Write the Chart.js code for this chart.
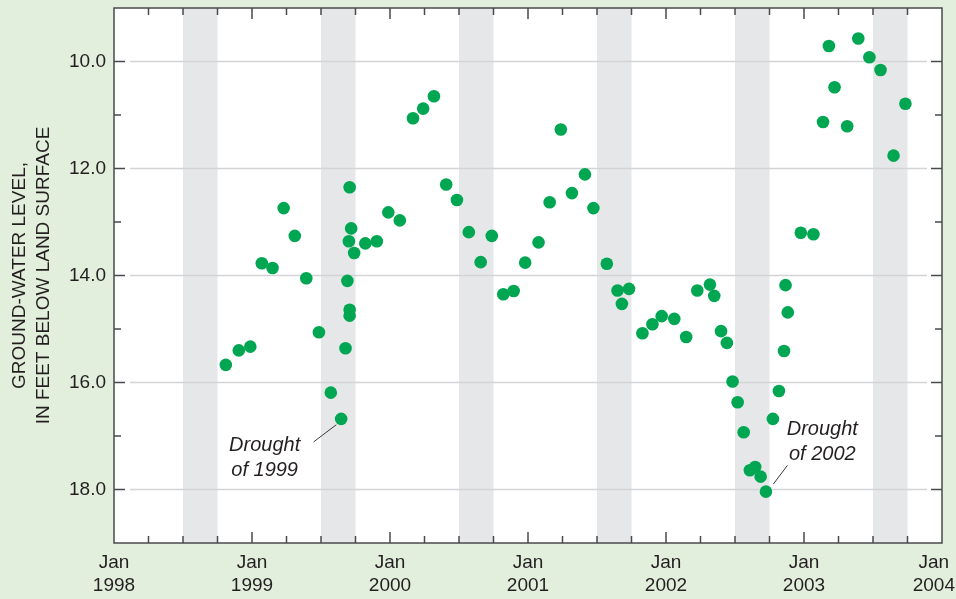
<!DOCTYPE html>
<html>
<head>
<meta charset="utf-8">
<script src="https://cdn.jsdelivr.net/npm/chart.js@4.4.0/dist/chart.umd.min.js"></script>
<style>
  html, body { margin: 0; padding: 0; background: #e3efdd; }
  #wrap { width: 956px; height: 599px; }
</style>
</head>
<body>
<div id="wrap"><canvas id="levelChart" width="956" height="599"></canvas></div>
<script>
'use strict';

// measurement dates
const sampleDates = [
    '1998-10-23', '1998-11-27', '1998-12-27',
    '1999-01-27', '1999-02-25', '1999-03-24', '1999-04-23', '1999-05-23', '1999-06-26',
    '1999-07-27', '1999-08-24', '1999-09-05', '1999-09-10', '1999-09-14', '1999-09-16',
    '1999-09-16', '1999-09-16', '1999-09-20', '1999-09-28', '1999-10-27', '1999-11-27',
    '1999-12-27',
    '2000-01-27', '2000-03-01', '2000-03-28', '2000-04-26', '2000-05-28', '2000-06-26',
    '2000-07-27', '2000-08-28', '2000-09-27', '2000-10-27', '2000-11-24', '2000-12-24',
    '2001-01-29', '2001-02-28', '2001-03-27', '2001-04-26', '2001-05-30', '2001-06-22',
    '2001-07-27', '2001-08-25', '2001-09-06', '2001-09-25', '2001-10-30', '2001-11-26',
    '2001-12-20',
    '2002-01-23', '2002-02-24', '2002-03-23', '2002-04-26', '2002-05-07', '2002-05-25',
    '2002-06-10', '2002-06-25', '2002-07-08', '2002-07-24', '2002-08-10', '2002-08-24',
    '2002-09-08', '2002-09-22', '2002-10-10', '2002-10-26', '2002-11-09', '2002-11-13',
    '2002-11-19', '2002-12-23',
    '2003-01-26', '2003-02-21', '2003-03-06', '2003-03-21', '2003-04-24', '2003-05-23',
    '2003-06-22', '2003-07-21', '2003-08-25', '2003-09-26'
];

// ground-water level, feet below land surface
const waterLevels = [
    15.67, 15.40, 15.33,
    13.77, 13.86, 12.74, 13.26, 14.05, 15.06,
    16.19, 16.68, 15.36, 14.10, 13.36, 14.64,
    14.75, 12.35, 13.12, 13.58, 13.40, 13.36,
    12.82,
    12.97, 11.06, 10.88, 10.65, 12.30, 12.59,
    13.19, 13.75, 13.26, 14.35, 14.29, 13.76,
    13.38, 12.63, 11.27, 12.46, 12.11, 12.74,
    13.78, 14.28, 14.53, 14.25, 15.08, 14.91,
    14.76,
    14.81, 15.15, 14.28, 14.17, 14.38, 15.04,
    15.26, 15.98, 16.37, 16.93, 17.64, 17.58,
    17.76, 18.04, 16.68, 16.16, 15.41, 14.18,
    14.69, 13.20,
    13.23, 11.13, 9.71, 10.48, 11.21, 9.57,
    9.92, 10.16, 11.76, 10.79
];

// shaded summer periods
const bandStarts = ['1998-07-01', '1999-07-01', '2000-07-01', '2001-07-01', '2002-07-01', '2003-07-01'];
const bandEnds = ['1998-10-01', '1999-10-01', '2000-10-01', '2001-10-01', '2002-10-01', '2003-10-01'];

const yearTicks = [1998, 1999, 2000, 2001, 2002, 2003, 2004];
const levelTicks = [10, 12, 14, 16, 18];

// notes on the plot
const notes = [
    { lines: ['Drought', 'of 1999'], at: ['1999-02-04', 17.18], from: ['1999-06-12', 17.11], to: ['1999-08-11', 16.79] },
    { lines: ['Drought', 'of 2002'], at: ['2003-02-19', 16.88], from: ['2002-11-18', 17.55], to: ['2002-10-11', 17.90] }
];

const TEXT = '#231f20';
const AXIS = '#4a4a4c';
const FONT = '"Liberation Sans", Arial, sans-serif';

function toYear(s) {
    const [y, m, d] = s.split('-').map(Number);
    return y + (m - 1 + (d - 1) / 30.5) / 12;
}

const decor = {
    id: 'decor',
    beforeDraw(chart) {
        const { ctx, chartArea: a, scales: { x, y } } = chart;
        ctx.save();
        ctx.fillStyle = '#ffffff';
        ctx.fillRect(a.left, a.top, a.right - a.left, a.bottom - a.top);

        ctx.fillStyle = '#e6e7e9';
        bandStarts.forEach((s, i) => {
            const x1 = x.getPixelForValue(toYear(s));
            const x2 = x.getPixelForValue(toYear(bandEnds[i]));
            ctx.fillRect(x1, a.top, x2 - x1, a.bottom - a.top);
        });

        ctx.strokeStyle = '#d3d4d6';
        ctx.lineWidth = 1.5;
        levelTicks.forEach(v => {
            const py = y.getPixelForValue(v);
            ctx.beginPath();
            ctx.moveTo(a.left + 16, py);
            ctx.lineTo(a.right - 15, py);
            ctx.stroke();
        });
        ctx.restore();
    },
    afterDatasetsDraw(chart) {
        const { ctx, chartArea: a, scales: { x, y } } = chart;
        ctx.save();

        // frame
        ctx.strokeStyle = AXIS;
        ctx.lineWidth = 1.5;
        ctx.strokeRect(a.left, a.top, a.right - a.left, a.bottom - a.top);

        // inward ticks
        ctx.beginPath();
        for (let q = 1; q < 24; q++) {
            const px = x.getPixelForValue(1998 + q / 4);
            const len = q % 4 === 0 ? 11 : 7;
            ctx.moveTo(px, a.top); ctx.lineTo(px, a.top + len);
            ctx.moveTo(px, a.bottom); ctx.lineTo(px, a.bottom - len);
        }
        for (let v = 10; v <= 18; v++) {
            const py = y.getPixelForValue(v);
            const len = v % 2 === 0 ? 11 : 7;
            ctx.moveTo(a.left, py); ctx.lineTo(a.left + len, py);
            ctx.moveTo(a.right, py); ctx.lineTo(a.right - len, py);
        }
        ctx.stroke();

        // x labels
        ctx.fillStyle = TEXT;
        ctx.font = '19px ' + FONT;
        ctx.textAlign = 'center';
        ctx.textBaseline = 'middle';
        yearTicks.forEach(yr => {
            const w = ctx.measureText(String(yr)).width;
            const cx = Math.min(x.getPixelForValue(yr), chart.width - 1 - w / 2);
            ctx.fillText('Jan', cx, a.bottom + 20);
            ctx.fillText(String(yr), cx, a.bottom + 43);
        });

        // notes
        ctx.font = 'italic 20px ' + FONT;
        ctx.strokeStyle = '#3a3a3c';
        ctx.lineWidth = 1;
        notes.forEach(n => {
            const cx = x.getPixelForValue(toYear(n.at[0]));
            const cy = y.getPixelForValue(n.at[1]);
            n.lines.forEach((t, i) => ctx.fillText(t, cx, cy + i * 25));
            ctx.beginPath();
            ctx.moveTo(x.getPixelForValue(toYear(n.from[0])), y.getPixelForValue(n.from[1]));
            ctx.lineTo(x.getPixelForValue(toYear(n.to[0])), y.getPixelForValue(n.to[1]));
            ctx.stroke();
        });
        ctx.restore();
    }
};

const levelChart = new Chart(document.getElementById('levelChart'), {
    type: 'scatter',
    data: {
        datasets: [{
            label: 'Ground-water level',
            data: sampleDates.map((d, i) => ({ x: toYear(d), y: waterLevels[i] })),
            pointRadius: 6.3,
            pointHoverRadius: 6.3,
            pointBackgroundColor: '#00a651',
            pointBorderWidth: 0
        }]
    },
    options: {
        responsive: false,
        animation: false,
        devicePixelRatio: 1,
        layout: {
            padding: { top: 8, right: 14, left: 0, bottom: 0 }
        },
        plugins: {
            legend: { display: false },
            tooltip: { enabled: false }
        },
        scales: {
            x: {
                type: 'linear',
                min: 1998,
                max: 2004,
                grid: { display: false },
                border: { display: false },
                ticks: { display: false },
                afterFit(s) {
                    s.height = 56;
                    s.paddingLeft = 0;
                    s.paddingRight = 0;
                }
            },
            y: {
                type: 'linear',
                reverse: true,
                min: 9,
                max: 19,
                grid: { display: false, drawTicks: false },
                border: { display: false },
                ticks: {
                    stepSize: 1,
                    autoSkip: false,
                    padding: 8,
                    color: TEXT,
                    font: { family: FONT, size: 19 },
                    callback: v => levelTicks.includes(v) ? v.toFixed(1) : null
                },
                title: {
                    display: true,
                    text: ['GROUND-WATER LEVEL,', 'IN FEET BELOW LAND SURFACE'],
                    color: TEXT,
                    font: { family: FONT, size: 19, lineHeight: 1.25 },
                    padding: { top: 8, bottom: 0 }
                },
                afterFit(s) {
                    s.width = 114;
                    s.paddingTop = 0;
                    s.paddingBottom = 0;
                }
            }
        }
    },
    plugins: [decor]
});
</script>
</body>
</html>
